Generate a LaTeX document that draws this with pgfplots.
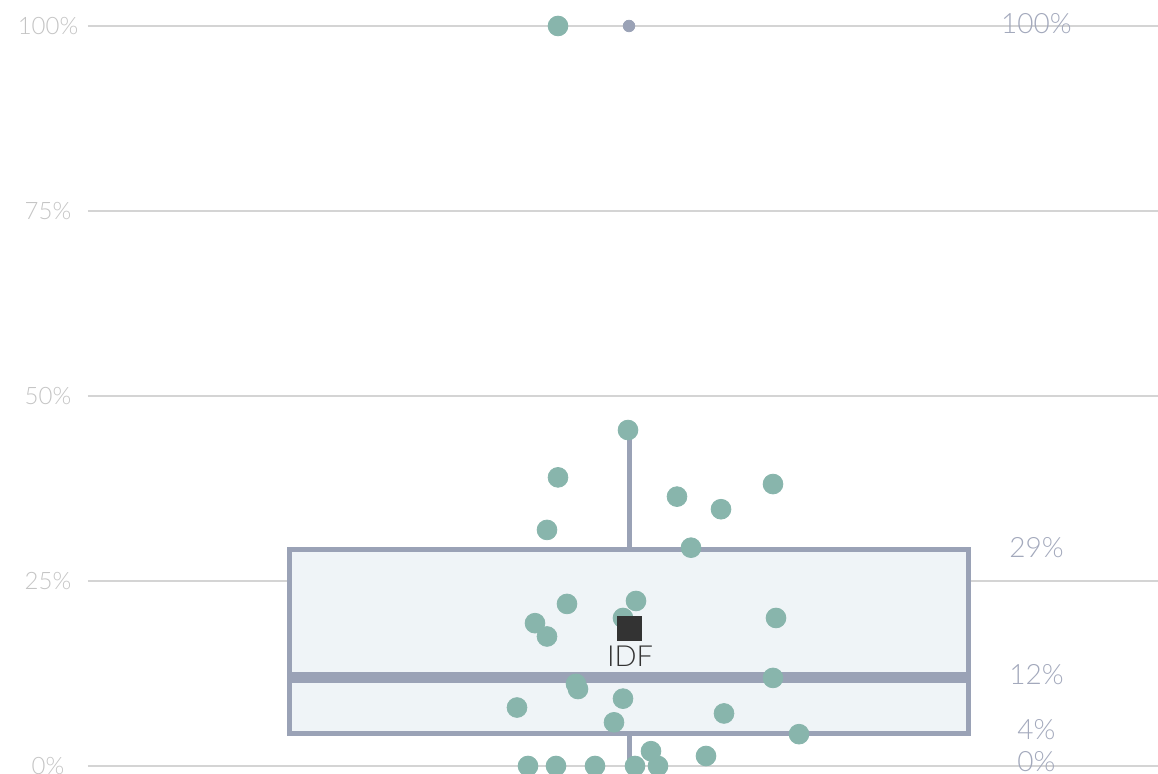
\documentclass[border=0pt]{standalone}
\usepackage{pgfplots}
\pgfplotsset{compat=1.18}
\usepackage{fontspec}
\setmainfont{Lato}[UprightFont={* Light}]

\definecolor{gridc}{HTML}{D4D4D4}
\definecolor{ticklab}{HTML}{C4C4C4}
\definecolor{sidelab}{HTML}{A3A9BC}
\definecolor{boxline}{HTML}{9AA2B6}
\definecolor{boxfill}{HTML}{EFF4F7}
\definecolor{dot}{HTML}{88B5AC}
\definecolor{idf}{HTML}{333333}

\begin{document}
\begin{tikzpicture}
\begin{axis}[
  scale only axis, width=535pt, height=387pt,
  xmin=88, xmax=1158, ymin=-1.081, ymax=103.514,
  axis line style={draw=none}, major tick length=0pt,
  xtick=\empty,
  ytick={0,25,50,75,100},
  yticklabels={0\%,25\%,50\%,75\%,100\%},
  yticklabel style={anchor=center, xshift=-20pt, font=\fontsize{12}{14}\selectfont, text=ticklab},
  ymajorgrids, grid style={gridc, line width=0.6pt},
]
% whiskers: 0 -- 4.3 and 29.3 -- 45.4
\addplot[boxline, line width=2.5pt] coordinates {(629.3,0) (629.3,4.34)};
\addplot[boxline, line width=2.5pt] coordinates {(629.3,29.26) (629.3,45.4)};
% box (quartiles 4.3 / 29.3)
\addplot[draw=boxline, fill=boxfill, line width=2.5pt]
  coordinates {(290,4.34) (968.7,4.34) (968.7,29.26) (290,29.26)} -- cycle;
% median 12
\addplot[boxline, line width=5.5pt] coordinates {(290,12.0) (968.7,12.0)};
% outlier
\addplot[only marks, mark=*, mark size=2.9pt, color=boxline]
  coordinates {(629,100)};
% individual values
\addplot[only marks, mark=*, mark size=4.95pt, color=dot]
  coordinates {
  (628,45.4) (558,39.0) (677,36.4) (721,34.7) (773,38.1) (547,31.9)
  (691,29.5) (567,21.9) (636,22.3) (623,20.0) (535,19.3) (547,17.5)
  (776,20.0) (773,11.9) (576,11.1) (578,10.4) (517,7.9) (623,9.1)
  (614,5.9) (724,7.1) (799,4.3) (651,2.0) (706,1.35) (528,0)
  (556,0) (595,0) (635,0) (658,0) (558,100)};
% IDF
\addplot[only marks, mark=square*, mark size=6.1pt, color=idf]
  coordinates {(629.3,18.6)};
\node[text=idf, font=\fontsize{14.5}{16}\selectfont] at (axis cs:630,14.8) {IDF};
\begin{scope}[every node/.style={text=sidelab, font=\fontsize{14}{16}\selectfont}]
\node at (axis cs:1036.5,100.3) {100\%};
\node at (axis cs:1036.5,29.5) {29\%};
\node at (axis cs:1036.5,12.3) {12\%};
\node at (axis cs:1036.5,4.9) {4\%};
\node at (axis cs:1036.5,0.6) {0\%};
\end{scope}
\end{axis}
\pgfresetboundingbox
\path[use as bounding box] (-44pt,0) rectangle (535pt,387pt);
\end{tikzpicture}
\end{document}
